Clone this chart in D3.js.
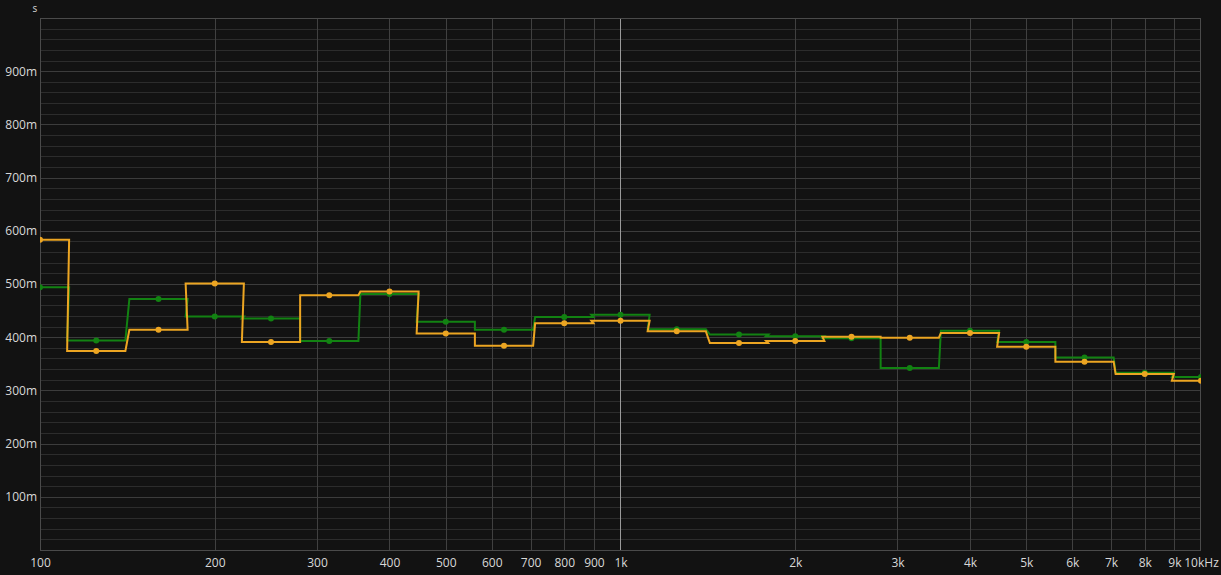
<!DOCTYPE html>
<html><head><meta charset="utf-8">
<script src="https://cdn.jsdelivr.net/npm/d3@7/dist/d3.min.js"></script>
<style>
html,body{margin:0;padding:0;background:#121212;}
svg{display:block;}
text{font-family:"Open Sans","Noto Sans",sans-serif;}
</style></head>
<body>
<svg id="chart" width="1221" height="575"></svg>
<script>
const bands = [100,125,160,200,250,315,400,500,630,800,1000,1250,1600,2000,2500,3150,4000,5000,6300,8000,10000];
const greenValues = [0.494,0.394,0.472,0.439,0.435,0.393,0.481,0.429,0.414,0.438,0.442,0.415,0.405,0.402,0.398,0.342,0.412,0.391,0.362,0.333,0.325];
const orangeValues = [0.583,0.374,0.414,0.501,0.391,0.479,0.486,0.407,0.384,0.426,0.431,0.411,0.389,0.393,0.401,0.399,0.408,0.382,0.354,0.331,0.318];
const xTicks = [100,200,300,400,500,600,700,800,900,1000,2000,3000,4000,5000,6000,7000,8000,9000,10000];
const xTickLabels = ["100","200","300","400","500","600","700","800","900","1k","2k","3k","4k","5k","6k","7k","8k","9k","10kHz"];
const yTicks = [0.1,0.2,0.3,0.4,0.5,0.6,0.7,0.8,0.9];
const yTickLabels = ["100m","200m","300m","400m","500m","600m","700m","800m","900m"];

const svg = d3.select("#chart");
const L = 40, R = 1201, T = 18, B = 550;
const x = d3.scaleLog().domain([100,10000]).range([L,R]);
const y = d3.scaleLinear().domain([0,1]).range([B,T]);

svg.append("rect").attr("width",1221).attr("height",575).attr("fill","#121212");

// minor y grid
const minor = d3.range(1,50).map(i=>i*0.02).filter(v=>Math.abs(v*10-Math.round(v*10))>1e-6);
svg.append("g").selectAll("line").data(minor).join("line")
  .attr("x1",L).attr("x2",R).attr("y1",d=>Math.round(y(d))+0.5).attr("y2",d=>Math.round(y(d))+0.5)
  .attr("stroke","#2c2c2c").attr("stroke-width",1);
// major y grid
svg.append("g").selectAll("line").data(yTicks).join("line")
  .attr("x1",L).attr("x2",R).attr("y1",d=>Math.round(y(d))+0.5).attr("y2",d=>Math.round(y(d))+0.5)
  .attr("stroke","#3c3c3c").attr("stroke-width",1);
// x grid
svg.append("g").selectAll("line").data(xTicks.filter(d=>d>100 && d<10000)).join("line")
  .attr("x1",d=>Math.round(x(d))+0.5).attr("x2",d=>Math.round(x(d))+0.5).attr("y1",T).attr("y2",B)
  .attr("stroke",d=>d===1000?"#9a9a9a":"#404040").attr("stroke-width",1);
// frame
svg.append("rect").attr("x",L+0.5).attr("y",T+0.5).attr("width",R-L-1).attr("height",B-T)
  .attr("fill","none").attr("stroke","#4a4a4a");

// axes labels
const xAxis = d3.axisBottom(x).tickValues(xTicks).tickFormat((d,i)=>xTickLabels[i]).tickSize(0).tickPadding(8);
const gx = svg.append("g").attr("transform",`translate(0,${B})`).call(xAxis);
gx.select(".domain").remove();
gx.selectAll("text").attr("fill","#d8d8d8").attr("font-size",12);
const yAxis = d3.axisLeft(y).tickValues(yTicks).tickFormat((d,i)=>yTickLabels[i]).tickSize(0).tickPadding(3);
const gy = svg.append("g").attr("transform",`translate(${L},0)`).call(yAxis);
gy.select(".domain").remove();
gy.selectAll("text").attr("fill","#d8d8d8").attr("font-size",12);
svg.append("text").attr("x",35).attr("y",12).attr("text-anchor","middle").attr("fill","#d8d8d8").attr("font-size",10).text("s");

// clip
svg.append("clipPath").attr("id","clip").append("rect").attr("x",L).attr("y",T).attr("width",R-L).attr("height",B-T);

function stepPts(vals){
  const pts=[];
  bands.forEach((f,i)=>{
    const lo = Math.max(100, f*Math.pow(2,-1/6));
    const hi = Math.min(10000, f*Math.pow(2,1/6));
    pts.push([x(lo),y(vals[i])],[x(hi),y(vals[i])]);
  });
  return pts;
}
const line = d3.line();
function drawSeries(vals,color){
  const g = svg.append("g").attr("clip-path","url(#clip)");
  g.append("path").attr("d",line(stepPts(vals))).attr("fill","none").attr("stroke",color).attr("stroke-width",2);
  g.selectAll("circle").data(bands).join("circle")
    .attr("cx",d=>x(d)).attr("cy",(d,i)=>y(vals[i])).attr("r",3).attr("fill",color);
}
drawSeries(greenValues,"#128212");
drawSeries(orangeValues,"#eca522");
</script>
</body></html>
